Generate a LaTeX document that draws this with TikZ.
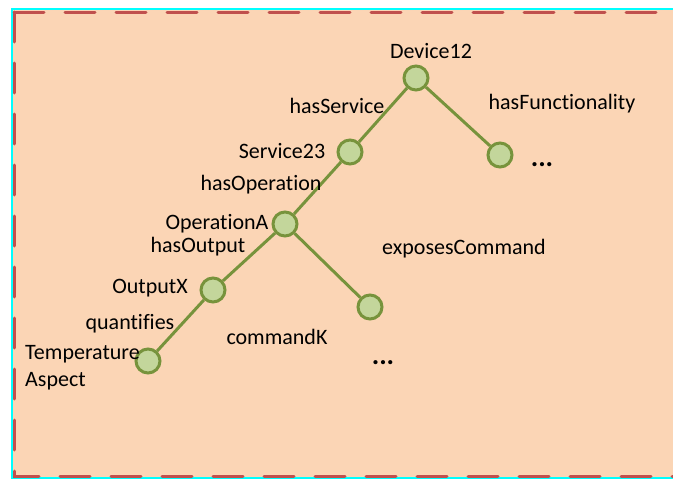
\documentclass[tikz,border=0pt]{standalone}
\usepackage{fontspec}
\setmainfont[Ligatures=NoCommon]{Carlito}
\definecolor{peach}{HTML}{FBD5B5}
\definecolor{dashred}{HTML}{C0504D}
\definecolor{leafgreen}{HTML}{C3D69B}
\definecolor{edgegreen}{HTML}{77933C}
\definecolor{framecyan}{HTML}{00FFFF}
\begin{document}
\begin{tikzpicture}[x=1pt, y=-1pt,
  res/.style={circle, draw=edgegreen, fill=leafgreen, line width=3pt, minimum size=24pt, inner sep=0pt},
  rel/.style={draw=edgegreen, line width=3pt},
  lbl/.style={font=\fontsize{22}{27}\selectfont, inner sep=0pt, text=black},
  more/.style={font=\fontsize{28}{30}\selectfont\bfseries, inner sep=0pt, text=black}]
  \useasboundingbox (0,0) rectangle (673,479);

  % Background
  \fill[peach] (12,9) rectangle (690,478);
  \draw[framecyan, line width=2pt] (690,9) -- (12,9) -- (12,478) -- (690,478);
  \draw[dashred, line width=3pt, line cap=round, dash pattern=on 30pt off 21pt] (14,12) -- (690,12);
  \draw[dashred, line width=3pt, line cap=round, dash pattern=on 30pt off 21pt] (14,12) -- (14,476) -- (690,476);

  % Resources
  \node[res] (dev) at (416,78) {};
  \node[res] (func) at (500,155) {};
  \node[res] (serv) at (350,152) {};
  \node[res] (oper) at (285,224) {};
  \node[res] (cmd) at (370,307) {};
  \node[res] (outp) at (213,290) {};
  \node[res] (temp) at (148,361) {};

  % Relations
  \draw[rel] (dev) -- (serv);
  \draw[rel] (dev) -- (func);
  \draw[rel] (serv) -- (oper);
  \draw[rel] (oper) -- (outp);
  \draw[rel] (oper) -- (cmd);
  \draw[rel] (outp) -- (temp);

  % Labels
  \node[lbl] (devlbl) at (431,51) {Device12};
  \node[lbl] (hasserv) at (337,106) {hasService};
  \node[lbl] (hasfunc) at (562,104) {hasFunctionality};
  \node[lbl] (servlbl) at (282,151) {Service23};
  \node[more] (funcdots) at (542,165) {...};
  \node[lbl] (hasoper) at (261,185) {hasOperation};
  \node[lbl] (operlbl) at (217,224) {OperationA};
  \node[lbl] (hasout) at (198,247) {hasOutput};
  \node[lbl] (expcmd) at (464,249) {exposesCommand};
  \node[lbl] (outlbl) at (150,288) {OutputX};
  \node[lbl] (quant) at (130,324) {quantifies};
  \node[lbl] (cmdlbl) at (277,337) {commandK};
  \node[more] (cmddots) at (383,363) {...};
  \node[lbl, align=left, anchor=west] (templbl) at (25,368) {Temperature\\Aspect};
\end{tikzpicture}
\end{document}
